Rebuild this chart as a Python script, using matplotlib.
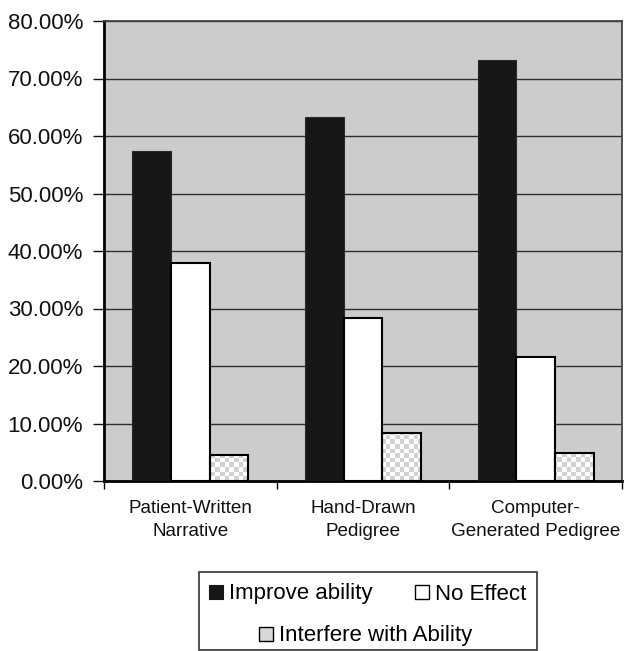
import numpy as np
import matplotlib
matplotlib.use('Agg')
import matplotlib.pyplot as plt
from matplotlib.patches import Rectangle, Patch
from matplotlib.colors import ListedColormap
from matplotlib.ticker import FuncFormatter, FixedLocator
from matplotlib.legend_handler import HandlerTuple

categories = ['Patient-Written\nNarrative', 'Hand-Drawn\nPedigree', 'Computer-\nGenerated Pedigree']
series_names = ['Improve ability', 'No Effect', 'Interfere with Ability']
improve = [57.4, 63.3, 73.2]
no_effect = [37.9, 28.3, 21.6]
interfere = [4.6, 8.3, 4.9]
y_ticks = [0, 10, 20, 30, 40, 50, 60, 70, 80]

plt.rcParams['font.family'] = ['Liberation Sans', 'DejaVu Sans']
fig = plt.figure(figsize=(6.44, 6.51), dpi=100)
W, H = 644, 651
ax = fig.add_axes([104 / W, 1 - 481 / H, (622 - 104) / W, (481 - 21) / H])
ax.set_facecolor('#cbcccb')

x = np.arange(len(categories))
w = 0.224
b1 = ax.bar(x - w, improve, w, color='#161616', edgecolor='#2a2a2a', lw=0.8, zorder=3, label=series_names[0])
b2 = ax.bar(x, no_effect, w, color='white', edgecolor='black', lw=1.5, zorder=3, label=series_names[1])
b3 = ax.bar(x + w, interfere, w, facecolor='none', edgecolor='black', lw=1.5, zorder=3, label=series_names[2])

# checker texture for the third series
nx, ny = int(518 / 4.6), int(460 / 4.6)
checker = np.add.outer(np.arange(ny), np.arange(nx)) % 2
cmap = ListedColormap(['white', '#d2d2d2'])
for p in b3.patches:
    im = ax.imshow(checker, cmap=cmap, extent=(-0.5, 2.5, 0, 80), aspect='auto',
                   interpolation='nearest', zorder=2.5)
    im.set_clip_path(p)

ax.set_xlim(-0.5, 2.5)
ax.set_ylim(0, 80)

ax.set_yticks(y_ticks)
ax.yaxis.set_major_formatter(FuncFormatter(lambda v, _: f'{v:.2f}%'))
ax.yaxis.grid(True, color='#2e2e2e', lw=1.0)
ax.set_axisbelow(True)
ax.tick_params(axis='y', direction='out', length=8, width=1, pad=7, labelsize=16, colors='#111111')

ax.set_xticks(x)
ax.set_xticklabels(categories)
ax.xaxis.set_minor_locator(FixedLocator([-0.5, 0.5, 1.5, 2.5]))
ax.tick_params(axis='x', which='major', length=0, pad=14, labelsize=13.6, colors='#111111')
ax.tick_params(axis='x', which='minor', direction='out', length=6, width=1)
for t in ax.get_xticklabels():
    t.set_linespacing(1.45)

for s in ['left', 'bottom']:
    ax.spines[s].set_linewidth(2)
    ax.spines[s].set_color('black')
for s in ['top', 'right']:
    ax.spines[s].set_linewidth(1.3)
    ax.spines[s].set_color('#444444')

# legend frame
fig.add_artist(Rectangle((199 / W, 1 - 650 / H), (537 - 199) / W, (650 - 572) / H,
                         transform=fig.transFigure, fill=False, edgecolor='#333333', lw=1.2))

h1 = Patch(facecolor='#161616', edgecolor='#161616', lw=0.8)
h2 = Patch(facecolor='white', edgecolor='black', lw=1.0)
h3a = Patch(facecolor='#d8d8d8', edgecolor='none', lw=0)
h3b = Patch(facecolor='none', edgecolor='black', lw=1.0)

fig.legend([h1, h2], series_names[:2], ncol=2, loc='center',
           bbox_to_anchor=(368 / W, 1 - 594 / H), frameon=False, fontsize=16,
           handlelength=0.6, handleheight=0.6, handletextpad=0.3, columnspacing=1.9,
           borderpad=0, borderaxespad=0)
fig.legend([(h3a, h3b)], series_names[2:], loc='center',
           bbox_to_anchor=(366 / W, 1 - 636 / H), frameon=False, fontsize=16,
           handlelength=0.6, handleheight=0.6, handletextpad=0.3,
           borderpad=0, borderaxespad=0, handler_map={tuple: HandlerTuple(ndivide=1, pad=0)})

fig.savefig('out.png', dpi=100)
